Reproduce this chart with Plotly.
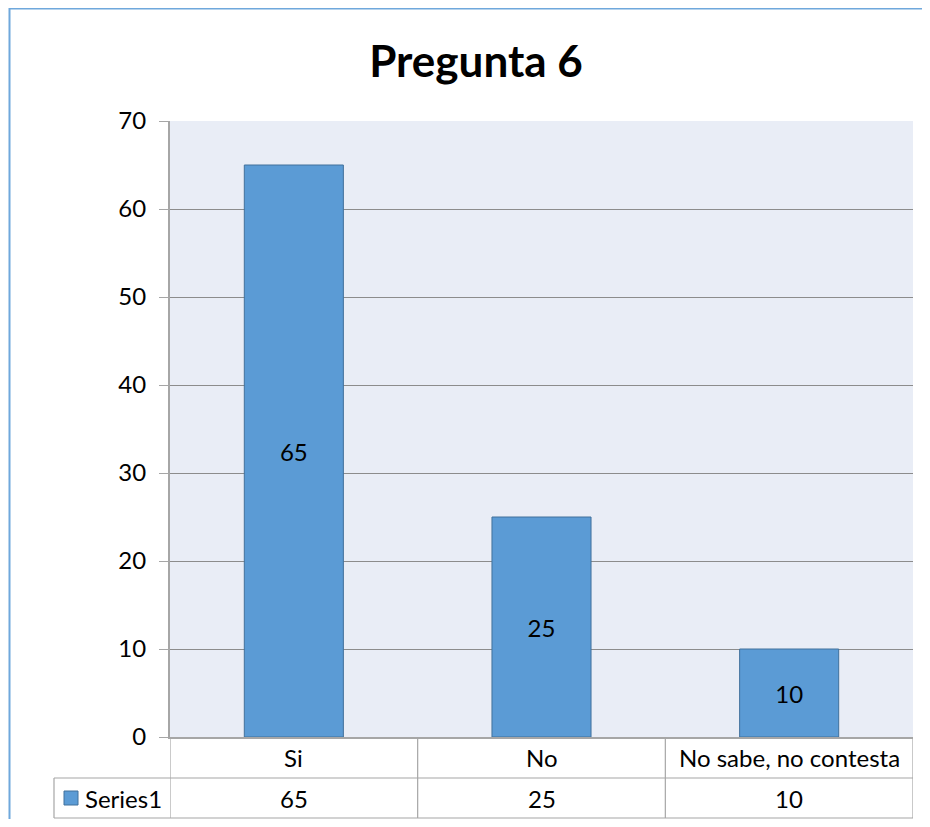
import plotly.graph_objects as go

categories = ["Si", "No", "No sabe, no contesta"]
values = [65, 25, 10]
series_name = "Series1"
title_text = "Pregunta 6"
y_ticks = [0, 10, 20, 30, 40, 50, 60, 70]

O = 8  # page body offset
W, H = 914, 811
L, T = 170 - O, 121 - O
R = W - (913 - O)
B = H - (737 - O)
pw, ph = W - L - R, H - T - B

def py(pix):
    return (T + ph - (pix - O)) / ph

def px(pix):
    return ((pix - O) - L) / pw

bar_color = "#5B9BD5"
bar_line = "#41719C"
grid_color = "#8C8C8C"
axis_color = "#A6A6A6"
font_family = "Lato, 'Open Sans', sans-serif"
fs = 24

fig = go.Figure()
fig.add_trace(go.Bar(
    x=categories, y=values, name=series_name,
    marker=dict(color=bar_color, line=dict(color=bar_line, width=1)),
    width=0.4,
    text=values, texttemplate="%{text}", textposition="inside",
    insidetextanchor="middle",
    textfont=dict(size=fs, color="black", family=font_family),
    showlegend=False,
))

shapes = []
# outer chart border
shapes.append(dict(type="line", xref="paper", yref="paper", x0=px(9), x1=px(960), y0=py(8.5), y1=py(8.5),
                   line=dict(color="#6FA8DC", width=2)))
shapes.append(dict(type="line", xref="paper", yref="paper", x0=px(9.5), x1=px(9.5), y0=py(8), y1=py(860),
                   line=dict(color="#6FA8DC", width=2)))
# data table
tc = "#A6A6A6"
row1 = py(778)
row2 = py(818)
for i in range(len(categories) + 1):
    shapes.append(dict(type="line", xref="x", yref="paper", x0=i - 0.5, x1=i - 0.5,
                       y0=row2, y1=0, line=dict(color=tc, width=1.2)))
shapes.append(dict(type="line", xref="paper", yref="paper", x0=px(54), x1=1, y0=row1, y1=row1,
                   line=dict(color=tc, width=1.2)))
shapes.append(dict(type="line", xref="paper", yref="paper", x0=px(54), x1=1, y0=row2, y1=row2,
                   line=dict(color=tc, width=1.2)))
shapes.append(dict(type="line", xref="paper", yref="paper", x0=px(54), x1=px(54), y0=row2, y1=row1,
                   line=dict(color=tc, width=1.2)))
# legend key
shapes.append(dict(type="rect", xref="paper", yref="paper", x0=px(64), x1=px(78), y0=py(805), y1=py(791),
                   fillcolor=bar_color, line=dict(color=bar_line, width=1)))

annotations = []
for c, v in zip(categories, values):
    annotations.append(dict(x=c, xref="x", y=(0 + row1) / 2, yref="paper", text=c, showarrow=False,
                            font=dict(size=fs, color="black", family=font_family), yanchor="middle"))
    annotations.append(dict(x=c, xref="x", y=(row1 + row2) / 2, yref="paper", text=str(v), showarrow=False,
                            font=dict(size=fs, color="black", family=font_family), yanchor="middle"))
annotations.append(dict(x=px(83), xref="paper", y=(row1 + row2) / 2, yref="paper", text=series_name,
                        showarrow=False, xanchor="left", yanchor="middle",
                        font=dict(size=fs, color="black", family=font_family)))

fig.update_layout(
    width=W, height=H,
    margin=dict(l=L, r=R, t=T, b=B),
    paper_bgcolor="white",
    plot_bgcolor="#E9EDF6",
    title=dict(text="<b>" + title_text + "</b>", x=(476 - O) / W, xanchor="center",
               y=1 - (62 - O) / H, yanchor="middle",
               font=dict(size=44, color="black", family=font_family)),
    xaxis=dict(showticklabels=False, showgrid=False, showline=True, linecolor=axis_color, linewidth=2,
               ticks="", range=[-0.5, 2.5], fixedrange=True),
    yaxis=dict(range=[0, 70], tickvals=y_ticks, showgrid=True, gridcolor=grid_color, gridwidth=1,
               showline=True, linecolor=axis_color, linewidth=2, ticks="outside", ticklen=9,
               tickcolor=axis_color, tickfont=dict(size=fs, color="black", family=font_family),
               ticklabelstandoff=8, zeroline=False),
    shapes=shapes,
    annotations=annotations,
    bargap=0.6,
)

fig.write_html("out.html")
